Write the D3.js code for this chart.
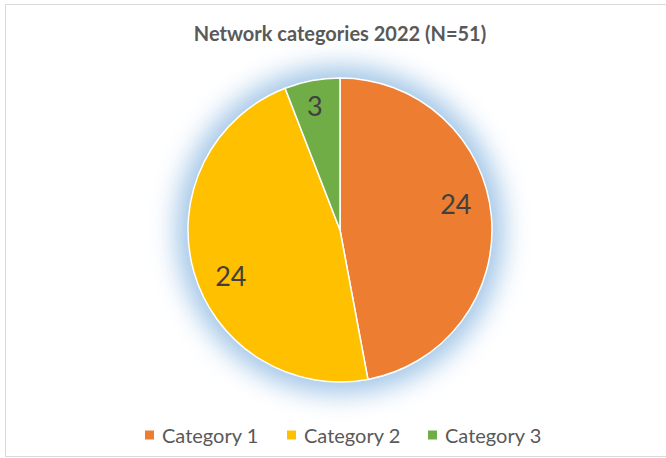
<!DOCTYPE html>
<html>
<head>
<meta charset="utf-8">
<script src="https://cdn.jsdelivr.net/npm/d3@7/dist/d3.min.js"></script>
<style>
  body { margin: 0; background: #fff; }
  svg { display: block; font-family: Lato, "Open Sans", sans-serif; }
</style>
</head>
<body>
<div id="chart"></div>
<script>
const title = 'Network categories 2022 (N=51)';
const categories = ['Category 1', 'Category 2', 'Category 3'];
const values = [24, 24, 3];
const colors = ['#ED7D31', '#FFC000', '#70AD47'];

const width = 666, height = 458;
const cx = 340, cy = 230, radius = 152;

const svg = d3.select('#chart').append('svg')
  .attr('width', width)
  .attr('height', height);

// chart frame
svg.append('rect')
  .attr('x', 5.5).attr('y', 4.5)
  .attr('width', width).attr('height', height - 6)
  .attr('fill', '#fff')
  .attr('stroke', '#d9d9d9');

svg.append('text')
  .attr('x', cx).attr('y', 41)
  .attr('text-anchor', 'middle')
  .attr('font-size', 20)
  .attr('font-weight', 'bold')
  .attr('fill', '#595959')
  .text(title);

const defs = svg.append('defs');
defs.append('filter')
  .attr('id', 'glow')
  .attr('x', '-40%').attr('y', '-40%')
  .attr('width', '180%').attr('height', '180%')
  .append('feGaussianBlur')
  .attr('stdDeviation', 13);

const g = svg.append('g').attr('transform', `translate(${cx},${cy})`);

// soft blue glow behind the pie
g.append('circle')
  .attr('r', radius + 12)
  .attr('fill', '#9DC3E6')
  .attr('opacity', 0.95)
  .attr('filter', 'url(#glow)');

const pie = d3.pie().sort(null).value(d => d);
const arcs = pie(values);
const arc = d3.arc().innerRadius(0).outerRadius(radius);

// best-fit style label: small slices sit further out, pulled slightly back toward the slice start
const labelPos = d => {
  const span = d.endAngle - d.startAngle;
  const a = (d.startAngle + d.endAngle) / 2 - span * 0.042;
  const r = radius * (span < 1 ? 0.83 : 0.78);
  return [Math.sin(a) * r, -Math.cos(a) * r];
};

g.selectAll('path.slice')
  .data(arcs)
  .join('path')
  .attr('class', 'slice')
  .attr('d', arc)
  .attr('fill', (d, i) => colors[i])
  .attr('stroke', '#fff')
  .attr('stroke-width', 1.5)
  .attr('stroke-linejoin', 'round');

g.selectAll('text.label')
  .data(arcs)
  .join('text')
  .attr('class', 'label')
  .attr('transform', d => `translate(${labelPos(d)})`)
  .attr('text-anchor', 'middle')
  .attr('dy', '0.36em')
  .attr('font-size', 27)
  .attr('fill', '#404040')
  .text(d => d.data);

// legend
const legendX = [145, 287, 428];
const legend = svg.append('g').attr('transform', 'translate(0,435)');
const item = legend.selectAll('g')
  .data(categories)
  .join('g')
  .attr('transform', (d, i) => `translate(${legendX[i]},0)`);
item.append('rect')
  .attr('x', 0).attr('y', -4.5)
  .attr('width', 9).attr('height', 9)
  .attr('fill', (d, i) => colors[i]);
item.append('text')
  .attr('x', 17)
  .attr('dominant-baseline', 'central')
  .attr('font-size', 20)
  .attr('fill', '#595959')
  .text(d => d);
</script>
</body>
</html>
